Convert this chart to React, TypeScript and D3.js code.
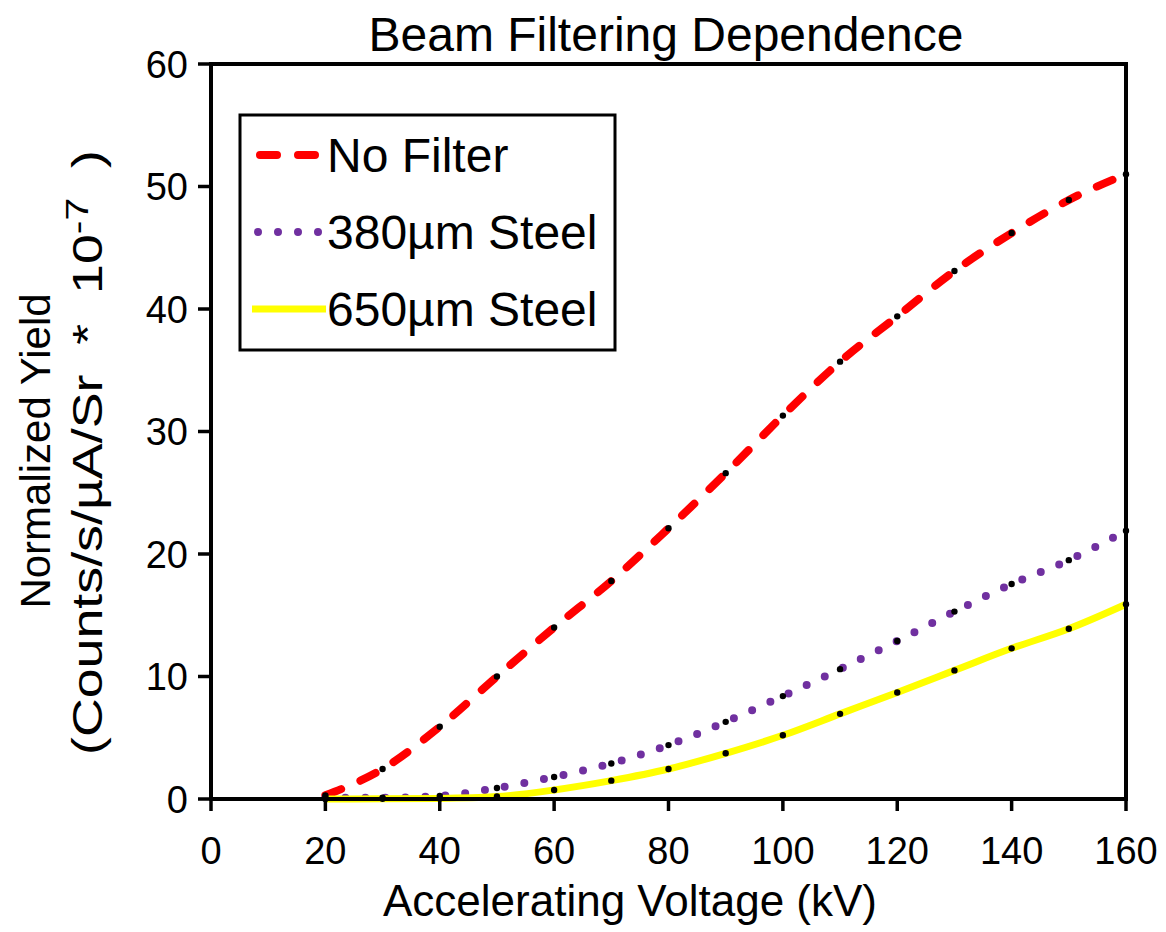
import React from "react";
import * as d3 from "d3";

const voltage = [20, 30, 40, 50, 60, 70, 80, 90, 100, 110, 120, 130, 140, 150, 160];
const noFilter = [0.3, 2.45, 5.9, 10.0, 14.0, 17.8, 22.1, 26.6, 31.3, 35.7, 39.4, 43.1, 46.2, 48.9, 51.0];
const steel380 = [0.1, 0.1, 0.25, 0.9, 1.8, 2.9, 4.4, 6.3, 8.4, 10.6, 12.9, 15.3, 17.55, 19.5, 21.9];
const steel650 = [0.0, 0.02, 0.05, 0.2, 0.74, 1.5, 2.45, 3.73, 5.2, 6.95, 8.7, 10.5, 12.3, 13.9, 15.9];
const xTicks = [0, 20, 40, 60, 80, 100, 120, 140, 160];
const yTicks = [0, 10, 20, 30, 40, 50, 60];
const seriesNames = ["No Filter", "380\u00b5m Steel", "650\u00b5m Steel"];

const W = 1166;
const H = 932;
const left = 211;
const right = 1126;
const top = 64;
const bottom = 799;
const FONT = "'Liberation Sans', Arial, Helvetica, sans-serif";

const styles = [
  { color: "#ff0000", width: 8, dash: "17 21", cap: "round" },
  { color: "#7030a0", width: 8, dash: "0 20", cap: "round" },
  { color: "#ffff00", width: 7, dash: "", cap: "butt" },
];

export default function App() {
  const x = d3.scaleLinear().domain([0, 160]).range([left, right]);
  const y = d3.scaleLinear().domain([0, 60]).range([bottom, top]);
  const line = d3
    .line<[number, number]>()
    .x((d) => x(d[0]))
    .y((d) => y(d[1]))
    .curve(d3.curveMonotoneX);
  const allSeries = [noFilter, steel380, steel650];

  return (
    <div style={{ position: "fixed", left: 0, top: 0 }}>
      <svg width={W} height={H} style={{ display: "block", background: "#fff" }} fontFamily={FONT}>
        <rect x={0} y={0} width={W} height={H} fill="#fff" />
        {/* title */}
        <text x={666} y={51} textAnchor="middle" fontSize={48} fill="#000">
          Beam Filtering Dependence
        </text>

        {/* series lines */}
        {allSeries.map((vals, i) => {
          const pts = voltage.map((v, j) => [v, vals[j]] as [number, number]);
          const s = styles[i];
          return (
            <path
              key={"l" + i}
              d={line(pts) || ""}
              fill="none"
              stroke={s.color}
              strokeWidth={s.width}
              strokeDasharray={s.dash || undefined}
              strokeLinecap={s.cap as any}
            />
          );
        })}
        {/* markers */}
        {allSeries.map((vals, i) =>
          voltage.map((v, j) => (
            <circle key={"m" + i + "-" + j} cx={x(v)} cy={y(vals[j])} r={3.2} fill="#000" />
          ))
        )}

        {/* frame */}
        <line x1={left} x2={right} y1={top} y2={top} stroke="#000" strokeWidth={4} />
        <line x1={right} x2={right} y1={top - 2} y2={bottom} stroke="#000" strokeWidth={4} />
        <line x1={left} x2={left} y1={top - 2} y2={bottom + 2} stroke="#000" strokeWidth={4} />
        <line x1={left - 2} x2={right + 2} y1={bottom} y2={bottom} stroke="#000" strokeWidth={4} />

        {/* x ticks */}
        {xTicks.map((t) => (
          <g key={"xt" + t}>
            <line x1={x(t)} x2={x(t)} y1={bottom} y2={bottom + 12} stroke="#000" strokeWidth={3.5} />
            <text x={x(t)} y={864} textAnchor="middle" fontSize={38} fill="#000">
              {t}
            </text>
          </g>
        ))}
        {/* y ticks */}
        {yTicks.map((t) => (
          <g key={"yt" + t}>
            <line x1={left - 13} x2={left} y1={y(t)} y2={y(t)} stroke="#000" strokeWidth={3.5} />
            <text x={188} y={y(t)} dy="0.36em" textAnchor="end" fontSize={38} fill="#000">
              {t}
            </text>
          </g>
        ))}

        {/* axis titles */}
        <text x={630} y={916} textAnchor="middle" fontSize={44} fill="#000">
          Accelerating Voltage (kV)
        </text>
        <text transform="translate(50,451) rotate(-90)" textAnchor="middle" fontSize={42} fill="#000">
          Normalized Yield
        </text>
        <text transform="translate(102,755) rotate(-90) scale(1.28,1)" textAnchor="start" fontSize={42} fill="#000">
          (Counts/s/{"\u00b5"}A/Sr{"\u00a0\u00a0"}*{"\u00a0\u00a0"}10
          <tspan fontSize={32} dy={-14}>-7</tspan>
          <tspan dy={14}>{"\u00a0\u00a0"})</tspan>
        </text>

        {/* legend */}
        <rect x={240} y={115} width={375} height={235} fill="#fff" stroke="#000" strokeWidth={3} />
        {seriesNames.map((name, i) => {
          const ly = [155, 232, 309][i];
          const s = styles[i];
          const x1 = i === 0 ? 260 : i === 1 ? 258 : 252;
          return (
            <g key={"lg" + i}>
              <line
                x1={x1}
                x2={i === 2 ? 326 : 320}
                y1={ly}
                y2={ly}
                stroke={s.color}
                strokeWidth={s.width}
                strokeDasharray={s.dash || undefined}
                strokeLinecap={s.cap as any}
              />
              <text x={327} y={ly + 17} fontSize={48} fill="#000">
                {name}
              </text>
            </g>
          );
        })}
      </svg>
    </div>
  );
}
